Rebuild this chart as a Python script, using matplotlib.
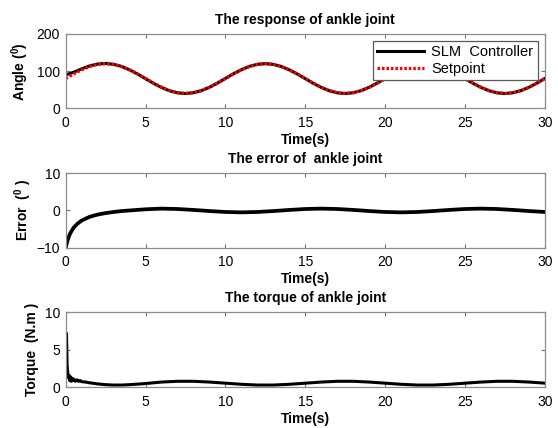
import matplotlib
matplotlib.use("Agg")
import matplotlib.pyplot as plt

plt.rcParams['font.family'] = ['Liberation Sans', 'DejaVu Sans']
plt.rcParams['mathtext.fontset'] = 'custom'
plt.rcParams['mathtext.rm'] = 'Liberation Sans:bold'
plt.rcParams['mathtext.bf'] = 'Liberation Sans:bold'
plt.rcParams['mathtext.it'] = 'Liberation Sans:bold'

# ---------------- data ----------------
t_angle = [0, 0.5, 1, 1.5, 2, 2.5, 3, 3.5, 4, 4.5, 5, 5.5, 6, 6.5, 7, 7.5, 8, 8.5, 9, 9.5,
           10, 10.5, 11, 11.5, 12, 12.5, 13, 13.5, 14, 14.5, 15, 15.5, 16, 16.5, 17, 17.5, 18, 18.5, 19, 19.5,
           20, 20.5, 21, 21.5, 22, 22.5, 23, 23.5, 24, 24.5, 25, 25.5, 26, 26.5, 27, 27.5, 28, 28.5, 29, 29.5, 30]
setpoint = [80, 92.4, 103.5, 112.4, 118.0, 120, 118.0, 112.4, 103.5, 92.4,
            80, 67.6, 56.5, 47.6, 42.0, 40, 42.0, 47.6, 56.5, 67.6,
            80, 92.4, 103.5, 112.4, 118.0, 120, 118.0, 112.4, 103.5, 92.4,
            80, 67.6, 56.5, 47.6, 42.0, 40, 42.0, 47.6, 56.5, 67.6,
            80, 92.4, 103.5, 112.4, 118.0, 120, 118.0, 112.4, 103.5, 92.4,
            80, 67.6, 56.5, 47.6, 42.0, 40, 42.0, 47.6, 56.5, 67.6, 80]
controller = [90, 97.0, 106.2, 114.1, 119.1, 120.7, 118.4, 112.6, 103.5, 92.2,
              79.6, 67.1, 56.0, 47.2, 41.6, 39.7, 41.9, 47.6, 56.6, 67.9,
              80.4, 92.9, 104.0, 112.8, 118.4, 120.3, 118.2, 112.4, 103.4, 92.2,
              79.6, 67.1, 56.0, 47.2, 41.6, 39.7, 41.9, 47.6, 56.6, 67.9,
              80.4, 92.9, 104.0, 112.8, 118.4, 120.3, 118.2, 112.4, 103.4, 92.2,
              79.6, 67.1, 56.0, 47.2, 41.6, 39.7, 41.9, 47.6, 56.6, 67.9, 80.4]

t_error = [0, 0.1, 0.2, 0.3, 0.5, 0.75, 1.0, 1.5, 2.0, 2.5, 3.0, 3.5, 4, 5, 6, 7, 8, 9,
           10, 11, 12, 13, 14, 15, 16, 17, 18, 19, 20, 21, 22, 23, 24, 25, 26, 27, 28, 29, 30]
error = [-10, -8.3, -7.0, -6.0, -4.6, -3.5, -2.7, -1.7, -1.1, -0.7, -0.4, -0.15, 0.0, 0.33, 0.5, 0.4, 0.15, -0.15,
         -0.4, -0.5, -0.4, -0.15, 0.15, 0.4, 0.5, 0.4, 0.15, -0.15, -0.4, -0.5, -0.4, -0.15, 0.15, 0.4, 0.5, 0.4, 0.15, -0.15, -0.4]

t_torque = [0, 0.05, 0.09, 0.13, 0.17, 0.21, 0.25, 0.3, 0.35, 0.4, 0.45, 0.5, 0.6, 0.7, 0.8, 0.9, 1.0, 1.25, 1.5,
            2.0, 2.5, 3, 3.5, 4, 5, 6, 7, 8, 9, 10, 11, 12, 13, 14, 15, 16, 17, 18, 19, 20,
            21, 22, 23, 24, 25, 26, 27, 28, 29, 30]
torque = [1.5, 7.2, 3.0, 1.9, 1.3, 1.6, 0.9, 1.4, 0.8, 1.2, 0.9, 1.1, 0.8, 1.0, 0.8, 0.9, 0.75, 0.7, 0.6,
          0.45, 0.35, 0.3, 0.3, 0.35, 0.5, 0.7, 0.8, 0.8, 0.7, 0.55, 0.4, 0.3, 0.3, 0.4, 0.55, 0.7, 0.8, 0.8, 0.7, 0.55,
          0.4, 0.3, 0.3, 0.4, 0.55, 0.7, 0.8, 0.8, 0.7, 0.55]

x_ticks = [0, 5, 10, 15, 20, 25, 30]
angle_ticks = [0, 100, 200]
error_ticks = [-10, 0, 10]
torque_ticks = [0, 5, 10]

# ---------------- figure ----------------
fig = plt.figure(figsize=(5.58, 4.28), dpi=100)
L, W = 0.1177, 0.859
ax1 = fig.add_axes([L, 0.747, W, 0.1736])
ax2 = fig.add_axes([L, 0.4213, W, 0.1738])
ax3 = fig.add_axes([L, 0.0951, W, 0.1752])

def style(ax, yticks, ylim, title, ylabel, ylab_x):
    ax.set_xlim(0, 30)
    ax.set_ylim(*ylim)
    ax.set_xticks(x_ticks)
    ax.set_yticks(yticks)
    ax.tick_params(direction='in', length=3, width=0.8, color='0.45',
                   top=True, right=True, labelsize=10, pad=4, labelcolor='black')
    ax.tick_params(axis='x', pad=5.5)
    for s in ax.spines.values():
        s.set_color('0.55')
        s.set_linewidth(0.9)
    ax.set_title(title, fontsize=10, fontweight='bold', pad=7.5)
    ax.set_xlabel('Time(s)', fontsize=10, fontweight='bold', labelpad=2)
    ax.set_ylabel(ylabel, fontsize=10, fontweight='bold')
    ax.yaxis.set_label_coords(ylab_x, 0.5)

l1, = ax1.plot(t_angle, controller, color='black', lw=2.2, label='SLM  Controller')
l2, = ax1.plot(t_angle, setpoint, color='red', lw=2.3, dashes=(0.8, 0.6), label='Setpoint')
style(ax1, angle_ticks, (0, 200), 'The response of ankle joint', r'Angle ($^0$)', -0.073)
leg = ax1.legend(loc='upper right', bbox_to_anchor=(0.985, 0.91), fontsize=10.5,
                 fancybox=False, framealpha=1, edgecolor='0.35', handlelength=3.2,
                 borderpad=0.3, labelspacing=0.2, handletextpad=0.5, borderaxespad=0)
leg.get_frame().set_linewidth(0.9)

ax2.plot(t_error, error, color='black', lw=2.7)
style(ax2, error_ticks, (-10, 10), 'The error of  ankle joint', r'Error  ($^0$ )', -0.066)

ax3.plot(t_torque, torque, color='black', lw=2.2)
style(ax3, torque_ticks, (0, 10), 'The torque of ankle joint', 'Torque  (N.m )', -0.056)

fig.savefig('out.png', dpi=100)
